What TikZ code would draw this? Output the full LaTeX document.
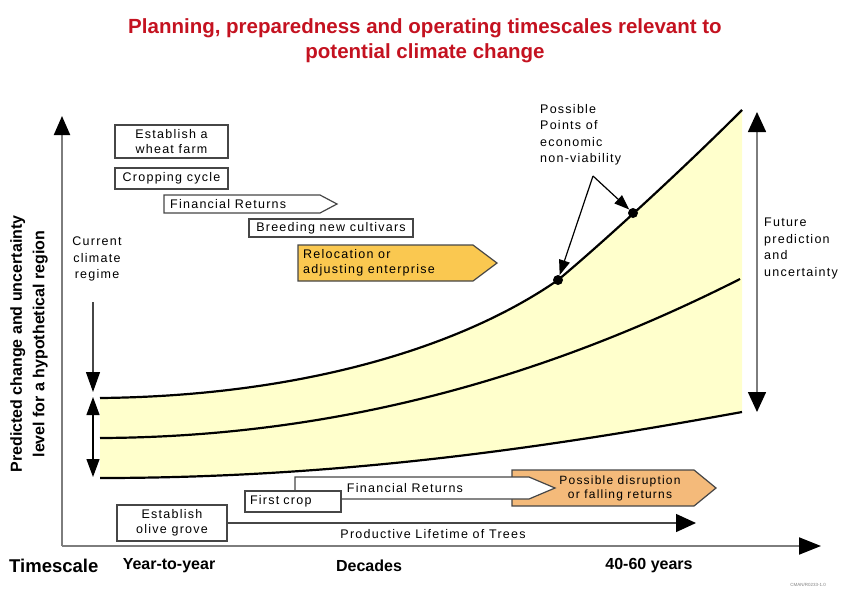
\documentclass[tikz,border=0pt]{standalone}
\usepackage{fontspec}
\setmainfont{Liberation Sans}
\newfontfamily\lbl[LetterSpace=10]{Liberation Sans}
\usetikzlibrary{arrows.meta}
\definecolor{titlered}{RGB}{196,18,32}
\definecolor{bandfill}{RGB}{255,255,204}
\definecolor{relocfill}{RGB}{250,200,80}
\definecolor{disruptfill}{RGB}{244,186,122}
\definecolor{edgegray}{RGB}{70,70,70}
\definecolor{axisgray}{RGB}{125,125,125}
\begin{document}
\begin{tikzpicture}[x=1pt,y=-1pt,
  lbltext/.style={font=\lbl\fontsize{12.5}{16.5}\selectfont, inner sep=0pt},
  labelbox/.style={draw=edgegray, line width=1.2pt, fill=white, font=\lbl\fontsize{12.5}{15}\selectfont, align=center, inner sep=0pt},
  shapeline/.style={draw=edgegray, line width=1.2pt},
  bandline/.style={line width=2.2pt, black},
  axisline/.style={draw=axisgray, line width=2pt},
  thinarrow/.style={draw=edgegray, line width=1.2pt},
  dot/.style={circle, fill=black, inner sep=0pt, minimum size=10pt},
  boldlbl/.style={font=\bfseries\fontsize{16}{19}\selectfont, inner sep=0pt}
]
\useasboundingbox (0,0) rectangle (850,600);

% title
\node[font=\bfseries\fontsize{20.5}{25}\selectfont, text=titlered, align=center] (title) at (425,41) {Planning, preparedness and operating timescales relevant to\\potential climate change};

% band
\coordinate (uL) at (100,398);
\coordinate (uM) at (558,280);
\coordinate (uR) at (742,110);
\coordinate (mL) at (100,438);
\coordinate (mR) at (740,279);
\coordinate (lL) at (100,478);
\coordinate (lR) at (742,412);
\fill[bandfill] (uL) .. controls (300,396) and (460,348) .. (uM)
  .. controls (600,245) and (680,172) .. (uR) -- (lR)
  .. controls (560,445) and (350,478) .. (lL) -- cycle;
\draw[bandline] (uL) .. controls (300,396) and (460,348) .. (uM)
  .. controls (600,245) and (680,172) .. (uR);
\draw[bandline] (mL) .. controls (350,437) and (560,370) .. (mR);
\draw[bandline] (lL) .. controls (350,478) and (560,445) .. (lR);

% axes
\coordinate (O) at (62,546);
\coordinate (ytop) at (62,116);
\coordinate (xend) at (821,546);
\draw[axisline, -{Triangle[length=19pt,width=16pt,color=black]}] (O) -- (ytop);
\draw[axisline, -{Triangle[length=22pt,width=17pt,color=black]}] (O) -- (xend);

\node[boldlbl, rotate=90, align=center, font=\bfseries\fontsize{16}{22.5}\selectfont] (ylabel) at (29,344) {Predicted change and uncertainty\\level for a hypothetical region};

% bottom labels
\node[boldlbl, anchor=west, font=\bfseries\fontsize{18.5}{21}\selectfont] (timescale) at (9,566) {Timescale};
\node[boldlbl] (yty) at (169,566) {Year-to-year};
\node[boldlbl] (decades) at (369,566) {Decades};
\node[boldlbl] (years) at (649,566) {40-60 years};
\node[font=\fontsize{4.5}{5}\selectfont, text=gray] (code) at (808,585) {CMAN/R0233-1.0};

% current climate regime
\node[lbltext, align=center] (current) at (97,259) {Current\\climate\\regime};
\coordinate (c1) at (93,302);
\coordinate (c2) at (93,392);
\draw[thinarrow, -{Triangle[length=20pt,width=14pt,color=black]}] (c1) -- (c2);
\coordinate (b1) at (93,397);
\coordinate (b2) at (93,477);
\draw[draw=black, line width=1.2pt, {Triangle[length=18pt,width=13pt]}-{Triangle[length=18pt,width=13pt]}] (b1) -- (b2);

% future prediction
\coordinate (ftop) at (757,112);
\coordinate (fbot) at (757,412);
\draw[draw=axisgray, line width=1.6pt, {Triangle[length=20pt,width=18pt,color=black]}-{Triangle[length=20pt,width=18pt,color=black]}] (ftop) -- (fbot);
\node[lbltext, align=left, anchor=north west] (future) at (764,218) {Future\\prediction\\and\\uncertainty};

% points of non-viability
\node[dot] (p1) at (558,280) {};
\node[dot] (p2) at (633,213) {};
\node[lbltext, align=left, anchor=north west] (possible) at (540,104) {Possible\\Points of\\economic\\non-viability};
\coordinate (apex) at (593,176);
\draw[thinarrow, draw=black, -{Triangle[length=15pt,width=11pt]}] (apex) -- (p1);
\draw[thinarrow, draw=black, -{Triangle[length=15pt,width=11pt]}] (apex) -- (p2);

% top boxes
\node[labelbox, minimum width=113pt, minimum height=33pt] (wheat) at (171.5,141.5) {Establish a\\wheat farm};
\node[labelbox, minimum width=113pt, minimum height=21pt] (crop) at (171.5,178.5) {Cropping cycle};
\draw[shapeline, fill=white] (164,195) -- (320,195) -- (337,204) -- (320,213) -- (164,213) -- cycle;
\node[lbltext, anchor=west] (fin1) at (170,204) {Financial Returns};
\node[labelbox, minimum width=164pt, minimum height=18pt] (breed) at (331,228) {Breeding new cultivars};
\draw[shapeline, fill=relocfill] (298,245) -- (473,245) -- (497,263) -- (473,281) -- (298,281) -- cycle;
\node[lbltext, align=left, anchor=west, font=\lbl\fontsize{12.5}{15}\selectfont] (reloc) at (303,263) {Relocation or\\adjusting enterprise};

% bottom boxes
\draw[shapeline, fill=disruptfill] (512,470) -- (694,470) -- (716,488) -- (694,506) -- (512,506) -- cycle;
\draw[shapeline, fill=white] (295,477) -- (529,477) -- (555,488) -- (529,499) -- (295,499) -- cycle;
\node[lbltext] (fin2) at (405,488) {Financial Returns};
\node[lbltext, align=center, font=\lbl\fontsize{12}{14}\selectfont] (disrupt) at (620,488) {Possible disruption\\or falling returns};
\node[labelbox, minimum width=96pt, minimum height=21pt, text width=86pt, align=left] (first) at (293,501.5) {First crop};
\node[labelbox, minimum width=110pt, minimum height=36pt] (olive) at (172,523) {Establish\\olive grove};
\coordinate (life) at (696,523);
\draw[draw=edgegray, line width=1.4pt, -{Triangle[length=20pt,width=18pt,color=black]}] (olive.east) -- (life);
\node[lbltext] (lifetxt) at (433,534) {Productive Lifetime of Trees};
\end{tikzpicture}
\end{document}
